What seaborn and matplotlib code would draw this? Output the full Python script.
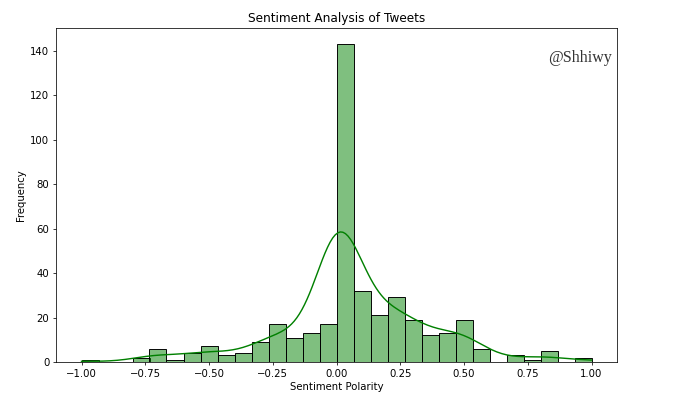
import matplotlib
matplotlib.use("Agg")
import matplotlib.pyplot as plt
import seaborn as sns
import numpy as np
import pandas as pd

# Representative sentiment polarity of each histogram bin and tweet counts per bin
polarity = [-1.000, -0.900, -0.833, -0.767, -0.700, -0.633, -0.567, -0.500,
            -0.433, -0.367, -0.300, -0.233, -0.167, -0.100, -0.033, 0.010,
            0.100, 0.167, 0.233, 0.300, 0.367, 0.433, 0.500, 0.567,
            0.633, 0.700, 0.767, 0.833, 0.900, 1.000]
counts = [1, 0, 0, 2, 6, 1, 4, 7, 3, 4, 9, 17, 11, 13, 17, 143,
          32, 21, 29, 19, 12, 13, 19, 6, 0, 3, 1, 5, 0, 2]

df = pd.DataFrame({"polarity": np.repeat(polarity, counts)})

plt.rcParams["font.size"] = 10.7

fig = plt.figure(figsize=(680 / 68, 404 / 68), dpi=68)
ax = fig.add_axes([56 / 680, 1 - 362 / 404, (617 - 56) / 680, (362 - 28) / 404])

sns.histplot(data=df, x="polarity", bins=30, binrange=(-1, 1),
             kde=True, color="green", ax=ax, edgecolor="black", linewidth=1)

ax.set_title("Sentiment Analysis of Tweets")
ax.set_xlabel("Sentiment Polarity")
ax.set_ylabel("Frequency")
ax.text(0.99, 0.91, "@Shhiwy", transform=ax.transAxes, ha="right", va="center",
        fontsize=17, family="Liberation Serif", color="#333333")

fig.savefig("out.png", dpi=68)
